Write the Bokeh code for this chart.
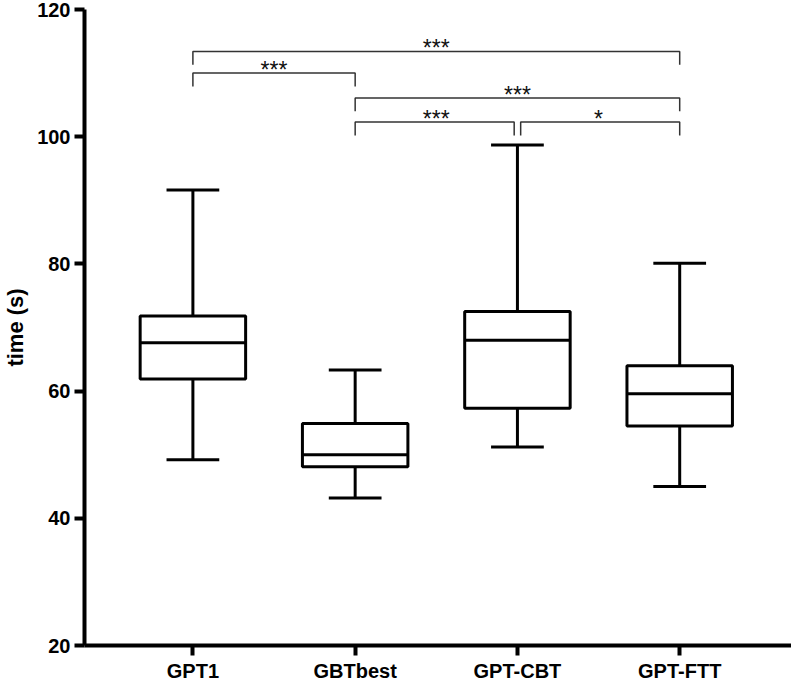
from bokeh.plotting import figure
from bokeh.models import ColumnDataSource, FixedTicker, Range1d
from bokeh.embed import file_html
from bokeh.resources import INLINE
from bokeh.core.properties import value

# ---- data ----
categories = ["GPT1", "GBTbest", "GPT-CBT", "GPT-FTT"]
whisker_low = [49.2, 43.2, 51.2, 45.0]
q1 = [61.9, 48.1, 57.3, 54.5]
median = [67.6, 50.0, 68.0, 59.6]
q3 = [71.8, 54.9, 72.5, 64.0]
whisker_high = [91.6, 63.3, 98.7, 80.1]

# significance comparisons: (from index, to index, bracket level, label)
comp_from = [0, 0, 1, 1, 2]
comp_to = [3, 1, 3, 2, 3]
comp_level = [113.4, 110.0, 106.1, 102.3, 102.3]
comp_label = ["***", "***", "***", "***", "*"]

y_ticks = [20, 40, 60, 80, 100, 120]

FONT = "Liberation Sans"
xs = list(range(len(categories)))

p = figure(width=791, height=684, output_backend="svg", toolbar_location=None,
           x_range=Range1d(-0.668, 3.689), y_range=Range1d(20, 120),
           min_border_left=83, min_border_right=0, min_border_top=9,
           min_border_bottom=39)
p.outline_line_color = None
p.grid.visible = False
p.background_fill_color = "white"

box_w = 0.65
cap_w = 0.325
src = ColumnDataSource(dict(
    x=xs, left=[x - box_w / 2 for x in xs], right=[x + box_w / 2 for x in xs],
    cl=[x - cap_w / 2 for x in xs], cr=[x + cap_w / 2 for x in xs],
    lo=whisker_low, q1=q1, med=median, q3=q3, hi=whisker_high))

lw = 3
p.segment(x0="x", y0="q3", x1="x", y1="hi", source=src, line_color="black", line_width=lw)
p.segment(x0="x", y0="lo", x1="x", y1="q1", source=src, line_color="black", line_width=lw)
p.segment(x0="cl", y0="hi", x1="cr", y1="hi", source=src, line_color="black", line_width=lw)
p.segment(x0="cl", y0="lo", x1="cr", y1="lo", source=src, line_color="black", line_width=lw)
p.quad(left="left", right="right", bottom="q1", top="q3", source=src,
       fill_color="white", line_color="black", line_width=lw)
p.segment(x0="left", y0="med", x1="right", y1="med", source=src, line_color="black", line_width=lw)

# brackets
drop = 2.1
gap = 0.02
bx, by, tx, ty = [], [], [], []
for a, b, lv in zip(comp_from, comp_to, comp_level):
    x0 = a + (gap if a == 2 else 0)
    x1 = b - (gap if b == 2 else 0)
    bx.append([x0, x0, x1, x1])
    by.append([lv - drop, lv, lv, lv - drop])
    tx.append((a + b) / 2)
    ty.append(lv)
p.multi_line(xs=bx, ys=by, line_color="#333333", line_width=1.5)
p.text(x=tx, y=ty, text=comp_label, text_font=value(FONT), text_font_size="23px",
       text_align="center", text_baseline="alphabetic", y_offset=-3, text_color="#111111")

# axes
p.xaxis.ticker = FixedTicker(ticks=xs)
p.xaxis.major_label_overrides = {i: c for i, c in enumerate(categories)}
p.yaxis.ticker = FixedTicker(ticks=y_ticks)
for ax in (p.xaxis[0], p.yaxis[0]):
    ax.axis_line_width = 4
    ax.axis_line_color = "black"
    ax.major_tick_line_width = 4
    ax.major_tick_line_color = "black"
    ax.major_tick_out = 10
    ax.major_tick_in = 0
    ax.minor_tick_line_color = None
    ax.major_label_text_font = FONT
    ax.major_label_text_font_style = "bold"
    ax.major_label_text_color = "black"
    ax.major_label_text_font_size = "20px"
p.xaxis.major_label_standoff = 4
p.yaxis.major_label_standoff = 4
p.yaxis.axis_label = "time (s)"
p.yaxis.axis_label_text_font = FONT
p.yaxis.axis_label_text_font_style = "bold"
p.yaxis.axis_label_text_font_size = "22px"
p.yaxis.axis_label_text_color = "black"
p.yaxis.axis_label_standoff = 6

open("out.html", "w").write(file_html(p, INLINE))
